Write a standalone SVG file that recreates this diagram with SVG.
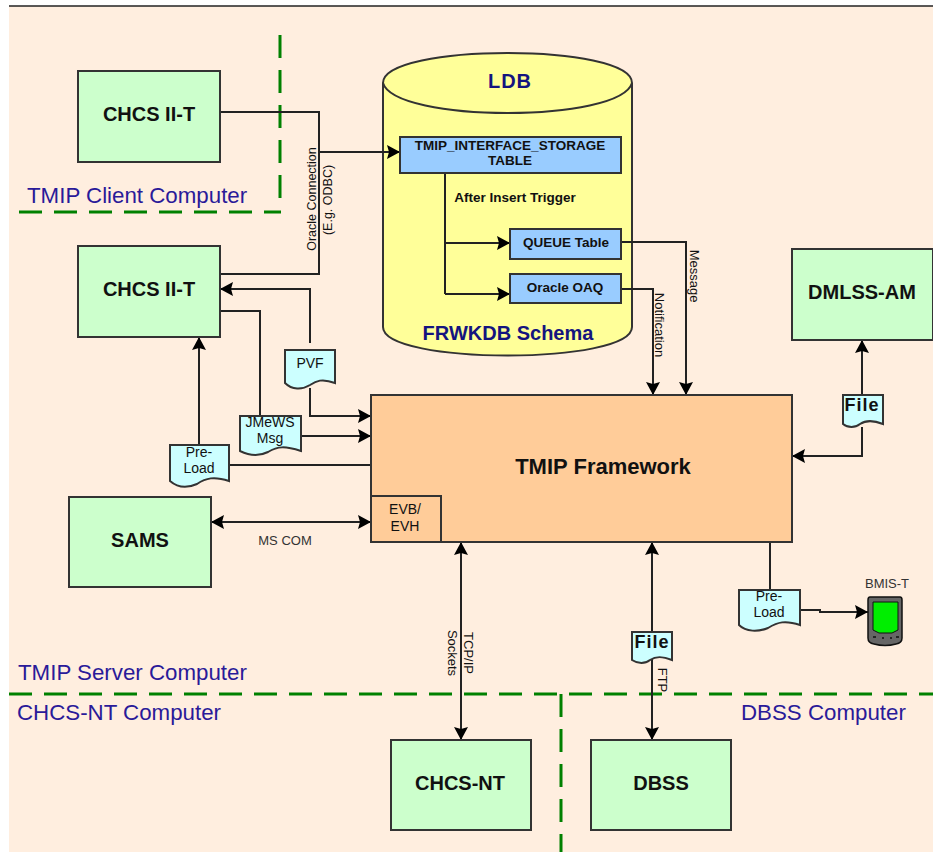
<svg xmlns="http://www.w3.org/2000/svg" width="933" height="852" viewBox="0 0 933 852">
<style>
text{font-family:"Liberation Sans",Arial,sans-serif;text-anchor:middle;fill:#111}
.box{stroke:#333;stroke-width:2}
.g{fill:#ccffcc}
.b{fill:#99ccff}
.d{fill:#ccffff;stroke:#333;stroke-width:2}
.o{fill:#ffcc99}
.t{font-size:20px;font-weight:bold}
.s{font-size:13px}
.r{font-size:12.5px}
.m{font-size:14px}
.sb{font-size:13.5px;font-weight:bold}
.f{font-size:18px;font-weight:bold;letter-spacing:1px}
.n{fill:#14147f;font-size:20px;font-weight:bold}
.z{fill:#2a1a99;font-size:22.3px;text-anchor:start}
.c{fill:none;stroke:#222;stroke-width:2}
.a{marker-end:url(#ah)}
.ab{marker-start:url(#as);marker-end:url(#ah)}
.dash{fill:none;stroke:#008000;stroke-width:3;stroke-dasharray:23 12}
</style>
<defs>
<marker id="ah" markerUnits="userSpaceOnUse" markerWidth="14" markerHeight="14" refX="13" refY="7" orient="auto"><path d="M0 0L13 7L0 14L2 7Z" fill="#000"/></marker>
<marker id="as" markerUnits="userSpaceOnUse" markerWidth="14" markerHeight="14" refX="1" refY="7" orient="auto"><path d="M14 0L1 7L14 14L12 7Z" fill="#000"/></marker>
</defs>
<rect width="933" height="852" fill="#fff"/>
<rect x="9" y="6" width="924" height="846" fill="#ffeedf"/>
<path d="M9 6H933" stroke="#222" stroke-width="1.5"/>

<g id="zones">
<path class="dash" d="M280 35V200"/>
<path class="dash" d="M19 212H281"/>
<path class="dash" d="M9 694H933"/>
<path class="dash" d="M561 694V852"/>
<text class="z" x="27" y="203">TMIP Client Computer</text>
<text class="z" x="18" y="680">TMIP Server Computer</text>
<text class="z" x="17" y="720">CHCS-NT Computer</text>
<text class="z" x="741" y="720">DBSS Computer</text>
</g>

<g id="ldb">
<path d="M383 83C383 43 632 43 632 83V327C632 365 383 365 383 327Z" fill="#ffff99" stroke="#333" stroke-width="2"/>
<path d="M383 83C395 123 620 123 632 83" fill="none" stroke="#333" stroke-width="2"/>
<text class="n" x="510" y="88" letter-spacing="1">LDB</text>
<text class="n" x="508" y="340">FRWKDB Schema</text>
<text class="sb" x="515" y="202">After Insert Trigger</text>
</g>

<g id="connectors">
<path class="c" d="M220 112H319V274H220"/>
<path class="c a" d="M319 152H400"/>
<path class="c a" d="M310 343V289H220"/>
<path class="c" d="M220 311H260V416"/>
<path class="c a" d="M310 388V416H371"/>
<path class="c a" d="M301 436H371"/>
<path class="c a" d="M199 445V337"/>
<path class="c" d="M229 465H371"/>
<path class="c ab" d="M211 522H371"/>
<path class="c" d="M445 173V294"/>
<path class="c a" d="M445 243H510"/>
<path class="c a" d="M445 294H510"/>
<path class="c a" d="M621 242H686V395"/>
<path class="c a" d="M621 289H653V395"/>
<path class="c a" d="M862 395V340"/>
<path class="c a" d="M862 427V456H792"/>
<path class="c" d="M770 542V590"/>
<path class="c a" d="M800 610H820V612H868"/>
<path class="c ab" d="M461 542V740"/>
<path class="c ab" d="M652 542V740"/>
</g>

<g id="connector-labels">
<text class="r" transform="translate(316,199) rotate(-90)">Oracle Connection</text>
<text class="r" transform="translate(332,200) rotate(-90)">(E.g. ODBC)</text>
<text class="s" transform="translate(690,276) rotate(90)">Message</text>
<text class="s" transform="translate(655,325) rotate(90)">Notification</text>
<text class="s" x="285" y="545" style="fill:#333">MS COM</text>
<text class="s" transform="translate(464,653) rotate(90)">TCP/IP</text>
<text class="s" transform="translate(448,653) rotate(90)">Sockets</text>
<text class="s" transform="translate(658,680) rotate(90)">FTP</text>
</g>

<g id="chcs-client"><rect class="box g" x="78" y="71" width="142" height="91"/><text class="t" x="149" y="121">CHCS II-T</text></g>
<g id="chcs-server"><rect class="box g" x="78" y="246" width="142" height="91"/><text class="t" x="149" y="296">CHCS II-T</text></g>
<g id="sams"><rect class="box g" x="69" y="497" width="142" height="90"/><text class="t" x="140" y="547">SAMS</text></g>
<g id="dmlss"><rect class="box g" x="792" y="249" width="141" height="91"/><text class="t" x="862" y="299">DMLSS-AM</text></g>
<g id="chcs-nt"><rect class="box g" x="391" y="740" width="140" height="90"/><text class="t" x="460" y="790">CHCS-NT</text></g>
<g id="dbss"><rect class="box g" x="591" y="740" width="140" height="90"/><text class="t" x="661" y="790">DBSS</text></g>

<g id="interface-table"><rect class="box b" x="400" y="137" width="221" height="36"/><text class="sb" x="510" y="150">TMIP_INTERFACE_STORAGE</text><text class="sb" x="510" y="165">TABLE</text></g>
<g id="queue-table"><rect class="box b" x="510" y="229" width="111" height="30"/><text class="sb" x="566" y="247">QUEUE Table</text></g>
<g id="oracle-oaq"><rect class="box b" x="510" y="274" width="111" height="29"/><text class="sb" x="565" y="292">Oracle OAQ</text></g>

<g id="framework"><rect class="box o" x="371" y="395" width="421" height="147"/><text x="603" y="474" font-size="22" font-weight="bold">TMIP Framework</text></g>
<g id="evb"><rect class="box o" x="371" y="496" width="70" height="46"/><text class="m" x="405" y="514">EVB/</text><text class="m" x="405" y="531">EVH</text></g>

<g id="doc-pvf"><path class="d" d="M285 350H335V383C322 378 316 381 310 385C302 390 292 390 285 383Z"/><text class="m" x="310" y="368">PVF</text></g>
<g id="doc-jmews"><path class="d" d="M240 416H301V451C285 446 278 446 268 452C258 457 248 455 240 451Z"/><text class="m" x="270" y="427">JMeWS</text><text class="m" x="270" y="443">Msg</text></g>
<g id="doc-preload1"><path class="d" d="M170 445H229V481C214 476 206 478 197 484C188 488 178 488 170 481Z"/><text class="m" x="199" y="457">Pre-</text><text class="m" x="199" y="473">Load</text></g>
<g id="doc-file1"><path class="d" d="M843 395H883V424C873 420 866 420 860 424C855 428 848 428 843 424Z"/><text class="f" x="862" y="411">File</text></g>
<g id="doc-preload2"><path class="d" d="M739 590H800V625C785 620 778 622 768 628C758 632 746 632 739 625Z"/><text class="m" x="769" y="601">Pre-</text><text class="m" x="769" y="617">Load</text></g>
<g id="doc-file2"><path class="d" d="M632 632H672V660C662 656 656 656 650 660C645 664 638 664 632 660Z"/><text class="f" x="652" y="648">File</text></g>

<g id="bmis">
<text x="887" y="588" font-size="13" style="fill:#333">BMIS-T</text>
<path d="M870 597H900Q902 597 902 600V638Q902 643 896 644Q885 647 874 644Q868 643 868 638V600Q868 597 870 597Z" fill="#666" stroke="#111" stroke-width="1.5"/>
<path d="M873 602H898V630L892 633H879L873 630Z" fill="#00ee00" stroke="#111" stroke-width="1"/>
<path d="M873 637h3M882 638h2M890 638h2M896 637h3" stroke="#111" stroke-width="1.5"/>
</g>
</svg>
